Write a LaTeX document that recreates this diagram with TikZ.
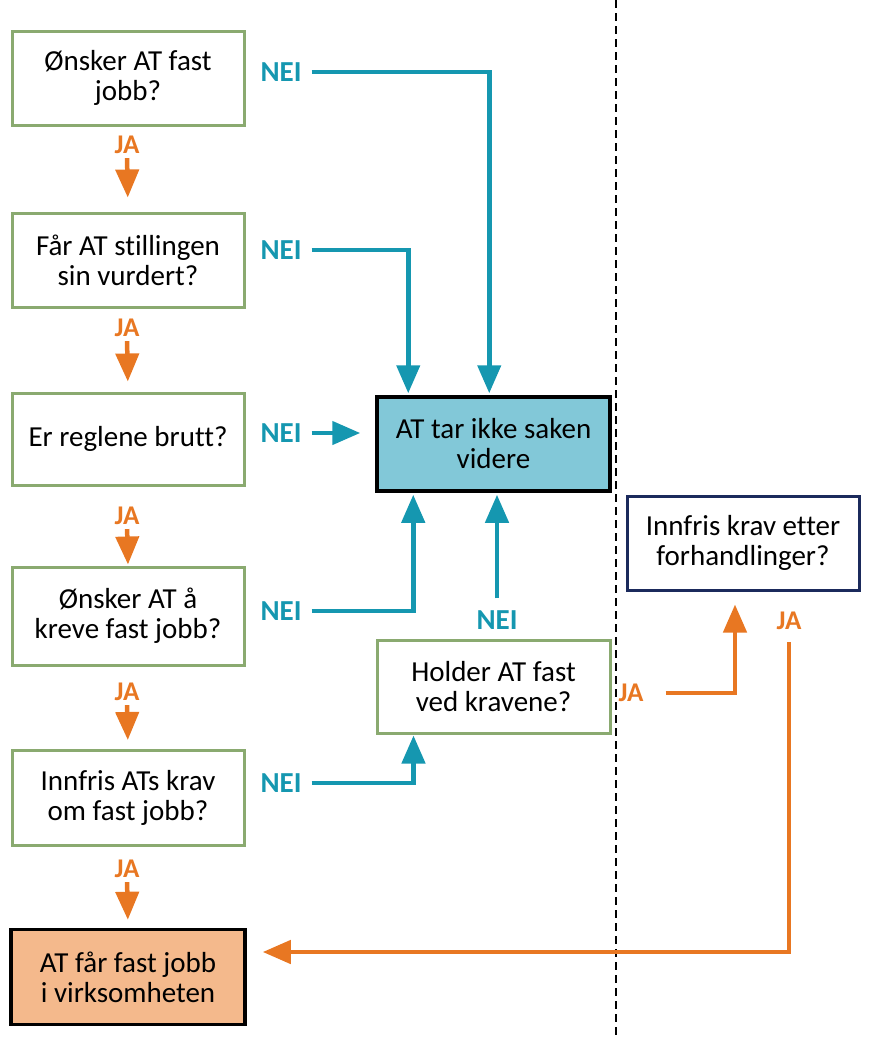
\documentclass[tikz,border=0pt]{standalone}
\usepackage{fontspec}
\setmainfont[Ligatures=NoCommon]{Carlito}
\usetikzlibrary{arrows.meta,calc}
\definecolor{gborder}{HTML}{8AAA70}
\definecolor{tblue}{HTML}{1597B0}
\definecolor{torange}{HTML}{E87722}
\definecolor{bfill}{HTML}{82C8D8}
\definecolor{ofill}{HTML}{F4B98C}
\definecolor{navy}{HTML}{1B2A5C}
\tikzset{
  qbox/.style={draw=gborder, line width=3pt, fill=white, minimum width=232pt, minimum height=94pt, align=center, inner sep=2pt, font=\fontsize{29}{30}\selectfont},
  endbox/.style={qbox, draw=black, line width=3.5pt},
  neilab/.style={text=tblue, font=\bfseries\fontsize{29}{30}\selectfont, inner sep=0pt},
  jalab/.style={text=torange, font=\bfseries\fontsize{27}{30}\selectfont, inner sep=0pt},
  bline/.style={draw=tblue, line width=4.5pt, -{Triangle[width=23pt,length=28pt]}},
  oline/.style={draw=torange, line width=4.5pt, -{Triangle[width=23pt,length=28pt]}},
}
\begin{document}
\begin{tikzpicture}[x=1pt,y=-1pt]
\useasboundingbox (0,0) rectangle (894,1039);
\draw[line width=1.5pt, dash pattern=on 8pt off 5pt] (616,0) -- (616,1036);
% left column
\node[qbox] (b1) at (128,78) {Ønsker AT fast\\jobb?};
\node[qbox] (b2) at (128,260) {Får AT stillingen\\sin vurdert?};
\node[qbox, minimum height=92pt] (b3) at (128,439) {Er reglene brutt?};
\node[qbox, minimum height=98pt] (b4) at (128,616) {Ønsker AT å\\kreve fast jobb?};
\node[qbox, minimum height=95pt] (b5) at (128,798) {Innfris ATs krav\\om fast jobb?};
\node[endbox, fill=ofill, minimum width=234pt, minimum height=95pt] (b6) at (128,977) {AT får fast jobb\\i virksomheten};
% middle
\node[endbox, fill=bfill, minimum width=233pt] (blue) at (493.5,444) {AT tar ikke saken\\videre};
\node[qbox, minimum width=233pt, minimum height=93pt] (hold) at (493.5,686.5) {Holder AT fast\\ved kravene?};
% right
\node[qbox, draw=navy, minimum width=232pt] (kr) at (743,543) {Innfris krav etter\\forhandlinger?};
% JA labels left
\node[jalab] (ja1) at (127,145) {JA};
\node[jalab] (ja2) at (127,328) {JA};
\node[jalab] (ja3) at (127,516) {JA};
\node[jalab] (ja4) at (127,692) {JA};
\node[jalab] (ja5) at (127,869) {JA};
\draw[oline, shorten <=4pt, shorten >=14pt] (ja1.south) -- (b2.north);
\draw[oline, shorten <=4pt, shorten >=10pt] (ja2.south) -- (b3.north);
\draw[oline, shorten <=4pt, shorten >=1pt] (ja3.south) -- (b4.north);
\draw[oline, shorten <=4pt, shorten >=9pt] (ja4.south) -- (b5.north);
\draw[oline, shorten <=4pt, shorten >=8pt] (ja5.south) -- (b6.north);
% NEI labels
\node[neilab] (n1) at (281,72) {NEI};
\node[neilab] (n2) at (281,250) {NEI};
\node[neilab] (n3) at (281,433) {NEI};
\node[neilab] (n4) at (281,611) {NEI};
\node[neilab] (n5) at (281,783) {NEI};
\node[neilab] (nh) at (497,620) {NEI};
\draw[bline, shorten <=10pt, shorten >=2pt] (n1.east) -| ($(blue.north west)+(114,0)$);
\draw[bline, shorten <=10pt, shorten >=2pt] (n2.east) -| ($(blue.north west)+(33,0)$);
\draw[bline, shorten <=10pt, shorten >=15pt] (n3.east) -- (n3.east -| blue.west);
\draw[bline, shorten <=10pt, shorten >=2pt] (n4.east) -| ($(blue.south west)+(38,0)$);
\draw[bline, shorten <=12pt, shorten >=2pt] (nh.north) -- (nh.north |- blue.south);
\draw[bline, shorten <=10pt, shorten >=1pt] (n5.east) -| ($(hold.south west)+(38,0)$);
% right JA
\node[jalab] (ja6) at (631,693) {JA};
\node[jalab] (ja7) at (789,621) {JA};
\draw[oline, shorten <=22pt, shorten >=13pt] (ja6.east) -| ($(kr.south)+(-8,0)$);
\draw[oline, shorten <=12pt, shorten >=16pt] (ja7.south) |- ($(b6.east)+(0,-25)$);
\end{tikzpicture}
\end{document}
